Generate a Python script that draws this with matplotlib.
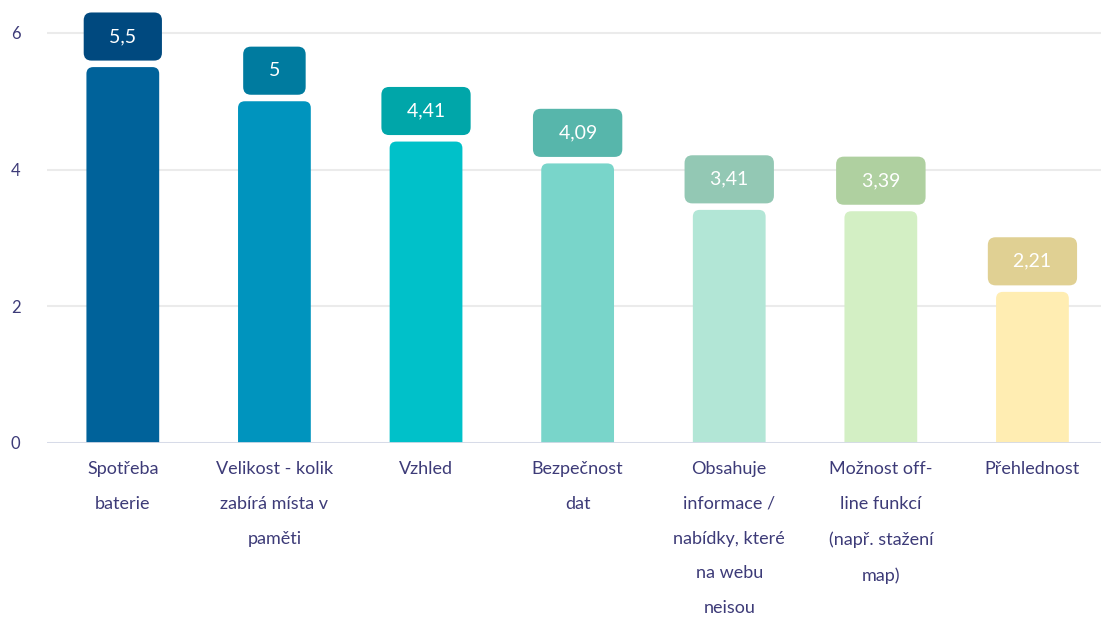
import numpy as np
import matplotlib.pyplot as plt
from matplotlib.patches import FancyBboxPatch

plt.rcParams['font.family'] = ['Lato', 'DejaVu Sans']

# data
categories = ['Spotřeba\nbaterie', 'Velikost - kolik\nzabírá místa v\npaměti', 'Vzhled',
              'Bezpečnost\ndat', 'Obsahuje\ninformace /\nnabídky, které\nna webu\nneisou',
              'Možnost off-\nline funkcí\n(např. stažení\nmap)', 'Přehlednost']
values = [5.5, 5.0, 4.41, 4.09, 3.41, 3.39, 2.21]
value_labels = ['5,5', '5', '4,41', '4,09', '3,41', '3,39', '2,21']
yticks = [0, 2, 4, 6]

bar_colors = ['#00629a', '#0094be', '#00c1c9', '#79d5ca', '#b2e6d6', '#d3efc4', '#ffedb2']
box_colors = ['#00497f', '#007b9f', '#00a6a9', '#57b6ab', '#93c8b4', '#afd0a0', '#e0d093']
txt = '#3d3b78'

fig = plt.figure(figsize=(11.01, 6.22), dpi=100)
ax = fig.add_axes([0.0427, 0.288, 0.957, 0.703])

x = np.arange(len(values))
bars = ax.bar(x, values, width=0.48, color=bar_colors, zorder=3)

# swap plain bars for ones with rounded tops
for i, b in enumerate(bars):
    b.set_visible(False)
    rb = FancyBboxPatch((b.get_x(), -0.3), b.get_width(), b.get_height() + 0.3,
                        boxstyle='round,pad=0,rounding_size=0.045', mutation_aspect=2.2,
                        fc=bar_colors[i], ec='none', zorder=3, clip_on=True)
    ax.add_patch(rb)
    ax.annotate('  ' + value_labels[i] + '  ', (b.get_x() + b.get_width() / 2, b.get_height()),
                xytext=(0, 22), textcoords='offset points', ha='center', va='center',
                fontsize=14, color='white', zorder=5,
                bbox=dict(boxstyle='round,pad=0.8,rounding_size=0.4', fc=box_colors[i], ec='none'))

ax.set_xlim(-0.5, 6.45)
ax.set_ylim(0, 6.4)
ax.set_yticks(yticks)
ax.set_yticklabels([str(t) for t in yticks])
ax.set_xticks(x)
ax.set_xticklabels(categories, linespacing=2.45)
ax.tick_params(axis='x', length=0, pad=13, labelsize=13, labelcolor=txt)
ax.tick_params(axis='y', length=0, pad=19, labelsize=12, labelcolor=txt)

ax.grid(axis='y', color='#ebebeb', linewidth=1.5, zorder=0)
for s in ax.spines.values():
    s.set_visible(False)
ax.axhline(0, color='#d5dae8', linewidth=2, zorder=4)

plt.savefig('out.png', dpi=100)
